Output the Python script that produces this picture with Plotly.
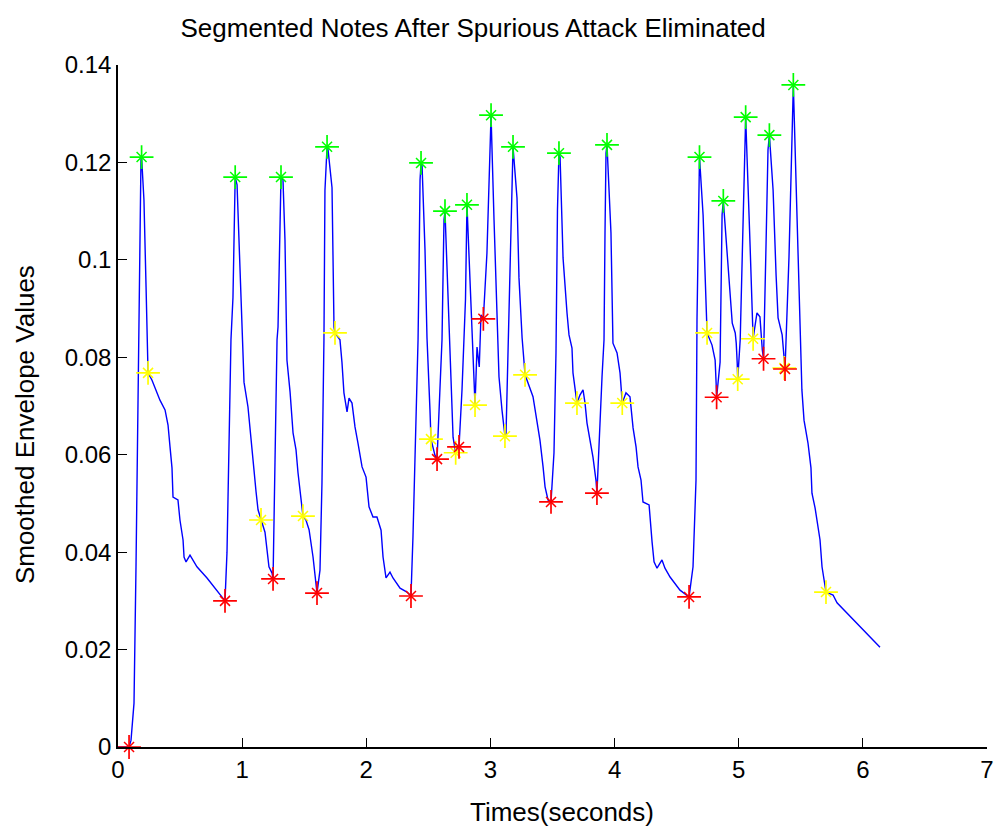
import plotly.graph_objects as go

# Smoothed envelope of the recording (time in seconds, envelope amplitude)
time_s = [
    0.000, 0.089, 0.105, 0.129, 0.145, 0.161, 0.175, 0.185, 0.190, 0.200,
    0.209, 0.226, 0.234, 0.242, 0.274, 0.306, 0.338, 0.379, 0.403, 0.419,
    0.435, 0.443, 0.483, 0.499, 0.524, 0.532, 0.548, 0.580, 0.604, 0.636,
    0.717, 0.862,
    0.878, 0.894, 0.910, 0.926, 0.936, 0.944, 0.959, 0.975, 0.999, 1.015,
    1.047, 1.063, 1.079, 1.088, 1.112, 1.128, 1.152, 1.184, 1.216, 1.241,
    1.249,
    1.265, 1.281, 1.289, 1.305, 1.313, 1.329, 1.345, 1.361, 1.386, 1.410,
    1.434, 1.450, 1.474, 1.490, 1.514, 1.539, 1.571, 1.587, 1.603,
    1.627, 1.643, 1.659, 1.667, 1.684, 1.692, 1.724, 1.732, 1.740, 1.748,
    1.788, 1.804, 1.820, 1.845, 1.861, 1.885, 1.909, 1.933, 1.966, 1.998,
    2.022, 2.054, 2.086, 2.119, 2.135, 2.159, 2.191, 2.215, 2.272, 2.328,
    2.360,
    2.376, 2.400, 2.417, 2.425, 2.433, 2.441, 2.449, 2.473, 2.489, 2.513,
    2.521, 2.553, 2.570,
    2.594, 2.610, 2.618, 2.626, 2.634, 2.658, 2.682, 2.699, 2.720, 2.731,
    2.747,
    2.771, 2.787, 2.799, 2.811, 2.844, 2.860, 2.876, 2.892, 2.910, 2.924,
    2.943,
    2.972, 2.989, 3.005, 3.029, 3.053, 3.069, 3.093, 3.109, 3.117, 3.125,
    3.142, 3.158, 3.174, 3.182, 3.214, 3.230, 3.255, 3.279, 3.343, 3.375,
    3.399, 3.424, 3.440, 3.464, 3.488,
    3.512, 3.528, 3.540, 3.552, 3.561, 3.585, 3.617, 3.633, 3.657, 3.665,
    3.697, 3.722, 3.746, 3.762, 3.778, 3.802, 3.826, 3.850, 3.858,
    3.899, 3.915, 3.923, 3.931, 3.939, 3.971, 3.987, 4.020, 4.044, 4.062,
    4.092, 4.124, 4.149, 4.173, 4.189, 4.213, 4.229, 4.278, 4.302, 4.318,
    4.342, 4.382, 4.406, 4.447, 4.527, 4.600,
    4.632, 4.656, 4.664, 4.676, 4.684, 4.713, 4.729, 4.745, 4.785, 4.810,
    4.818, 4.822,
    4.850, 4.858, 4.866, 4.876, 4.907, 4.931, 4.948, 4.972, 4.980, 4.988,
    4.992,
    5.012, 5.028, 5.044, 5.056, 5.092, 5.116, 5.147, 5.171, 5.190, 5.200,
    5.220, 5.236, 5.247, 5.277, 5.301, 5.317, 5.350, 5.365, 5.373,
    5.405, 5.429, 5.440, 5.470, 5.494, 5.509, 5.526, 5.542, 5.558, 5.582,
    5.590, 5.615, 5.631, 5.655, 5.671, 5.695, 5.703, 5.760, 5.792, 6.138,
]
envelope = [
    0.0000, 0.0000, 0.0014, 0.0090, 0.0370, 0.0743, 0.1070, 0.1205, 0.1211, 0.1160,
    0.1123, 0.0944, 0.0819, 0.0768, 0.0753, 0.0733, 0.0712, 0.0692, 0.0661, 0.0616,
    0.0573, 0.0513, 0.0507, 0.0466, 0.0425, 0.0390, 0.0380, 0.0394, 0.0384, 0.0370,
    0.0347, 0.0300,
    0.0400, 0.0614, 0.0836, 0.0922, 0.1119, 0.1170, 0.1154, 0.1035, 0.0877, 0.0749,
    0.0698, 0.0655, 0.0610, 0.0573, 0.0524, 0.0487, 0.0466, 0.0441, 0.0370, 0.0357,
    0.0345,
    0.0573, 0.0836, 0.0862, 0.1117, 0.1170, 0.1164, 0.1041, 0.0794, 0.0729, 0.0645,
    0.0610, 0.0563, 0.0513, 0.0474, 0.0466, 0.0446, 0.0390, 0.0347, 0.0316,
    0.0363, 0.0542, 0.0836, 0.1143, 0.1232, 0.1226, 0.1148, 0.0965, 0.0862, 0.0850,
    0.0836, 0.0790, 0.0727, 0.0688, 0.0716, 0.0706, 0.0657, 0.0624, 0.0575, 0.0554,
    0.0493, 0.0472, 0.0472, 0.0445, 0.0390, 0.0347, 0.0359, 0.0347, 0.0326, 0.0318,
    0.0310,
    0.0431, 0.0682, 0.0836, 0.0985, 0.1164, 0.1199, 0.1195, 0.1020, 0.0840, 0.0692,
    0.0632, 0.0599, 0.0591,
    0.0739, 0.0836, 0.0963, 0.1082, 0.1100, 0.0907, 0.0758, 0.0636, 0.0604, 0.0616,
    0.0616,
    0.0733, 0.0836, 0.0918, 0.1113, 0.0901, 0.0805, 0.0702, 0.0821, 0.0780, 0.0887,
    0.0879,
    0.1014, 0.1178, 0.1297, 0.1082, 0.0901, 0.0760, 0.0692, 0.0651, 0.0638, 0.0636,
    0.0809, 0.0963, 0.1170, 0.1232, 0.1127, 0.0963, 0.0840, 0.0764, 0.0719, 0.0671,
    0.0630, 0.0575, 0.0534, 0.0507, 0.0503,
    0.0604, 0.0809, 0.1102, 0.1219, 0.1211, 0.1004, 0.0891, 0.0846, 0.0819, 0.0768,
    0.0706, 0.0723, 0.0733, 0.0706, 0.0665, 0.0630, 0.0595, 0.0548, 0.0521,
    0.0760, 0.0836, 0.1057, 0.1219, 0.1236, 0.1055, 0.0829, 0.0809, 0.0768, 0.0706,
    0.0727, 0.0719, 0.0655, 0.0616, 0.0575, 0.0548, 0.0503, 0.0497, 0.0421, 0.0380,
    0.0367, 0.0384, 0.0367, 0.0349, 0.0322, 0.0308,
    0.0370, 0.0548, 0.0877, 0.1139, 0.1211, 0.1092, 0.0948, 0.0850, 0.0825, 0.0794,
    0.0747, 0.0718,
    0.0790, 0.0969, 0.1092, 0.1121, 0.1020, 0.0924, 0.0870, 0.0850, 0.0829, 0.0788,
    0.0755,
    0.0836, 0.0985, 0.1185, 0.1293, 0.1026, 0.0838, 0.0891, 0.0883, 0.0815, 0.0797,
    0.1031, 0.1226, 0.1256, 0.1143, 0.0969, 0.0881, 0.0846, 0.0800, 0.0776,
    0.1006, 0.1226, 0.1359, 0.1086, 0.0866, 0.0733, 0.0671, 0.0651, 0.0624, 0.0573,
    0.0521, 0.0491, 0.0466, 0.0425, 0.0370, 0.0328, 0.0318, 0.0312, 0.0296, 0.0205,
]

# Note onsets (red), envelope peaks (green) and note offsets (yellow)
onset_t = [0.089, 0.862, 1.249, 1.603, 2.360, 2.570, 2.747, 2.943, 3.488, 3.858,
           4.600, 4.822, 5.200, 5.373]
onset_v = [0.0000, 0.0300, 0.0345, 0.0316, 0.0310, 0.0591, 0.0616, 0.0879, 0.0503, 0.0521,
           0.0308, 0.0718, 0.0797, 0.0776]

peak_t = [0.190, 0.944, 1.313, 1.684, 2.441, 2.634, 2.811, 3.005, 3.182, 3.552,
          3.939, 4.684, 4.876, 5.056, 5.247, 5.440]
peak_v = [0.1211, 0.1170, 0.1170, 0.1232, 0.1199, 0.1100, 0.1113, 0.1297, 0.1232, 0.1219,
          0.1236, 0.1211, 0.1121, 0.1293, 0.1256, 0.1359]

offset_t = [0.242, 1.152, 1.490, 1.748, 2.521, 2.720, 2.876, 3.117, 3.279, 3.697,
            4.062, 4.745, 4.992, 5.116, 5.367, 5.703]
offset_v = [0.0768, 0.0466, 0.0474, 0.0850, 0.0632, 0.0604, 0.0702, 0.0638, 0.0764, 0.0706,
            0.0706, 0.0850, 0.0755, 0.0838, 0.0778, 0.0318]

x_ticks = [0, 1, 2, 3, 4, 5, 6, 7]
y_ticks = [0, 0.02, 0.04, 0.06, 0.08, 0.1, 0.12, 0.14]
y_tick_text = ["0", "0.02", "0.04", "0.06", "0.08", "0.1", "0.12", "0.14"]

FONT = "Liberation Sans, Arial, Helvetica, sans-serif"

fig = go.Figure()
fig.add_trace(go.Scatter(x=time_s, y=envelope, mode="lines",
                         line=dict(color="#0000FF", width=1.4), hoverinfo="skip"))


def star_traces(xs, ys, color):
    # MATLAB-style '*' marker: long plus arms with shorter diagonal arms
    plus = go.Scatter(x=xs, y=ys, mode="markers", cliponaxis=False,
                      marker=dict(symbol="cross-thin-open", size=17, color=color,
                                  line=dict(color=color, width=1.7)))
    diag = go.Scatter(x=xs, y=ys, mode="markers", cliponaxis=False,
                      marker=dict(symbol="x-thin-open", size=10, color=color,
                                  line=dict(color=color, width=1.5)))
    return [plus, diag]


for tr in star_traces(offset_t, offset_v, "#FFFF00"):
    fig.add_trace(tr)
for tr in star_traces(onset_t, onset_v, "#FF0000"):
    fig.add_trace(tr)
for tr in star_traces(peak_t, peak_v, "#00FF00"):
    fig.add_trace(tr)

axis_common = dict(showline=True, linecolor="black", linewidth=1.5,
                   ticks="inside", ticklen=9, tickwidth=1.2, tickcolor="black",
                   showgrid=False, zeroline=False, mirror=False, automargin=False,
                   tickfont=dict(family=FONT, size=24, color="black"))

fig.update_xaxes(range=[0, 7], tickvals=x_ticks, ticktext=[str(v) for v in x_ticks],
                 **axis_common)
fig.update_yaxes(range=[0, 0.14], tickvals=y_ticks, ticktext=y_tick_text,
                 **axis_common)

fig.update_layout(
    width=994, height=827,
    margin=dict(l=118, r=7, t=65, b=80, autoexpand=False),
    paper_bgcolor="white", plot_bgcolor="white",
    showlegend=False,
    font=dict(family=FONT, color="black"),
    title=dict(text="Segmented Notes After Spurious Attack Eliminated",
               x=0.476, xref="container", xanchor="center",
               y=0.966, yref="container", yanchor="middle",
               font=dict(family=FONT, size=26, color="black")),
    annotations=[
        dict(text="Times(seconds)", x=0.511, y=-0.095, xref="paper", yref="paper",
             xanchor="center", yanchor="middle", showarrow=False,
             font=dict(family=FONT, size=26, color="black")),
        dict(text="Smoothed Envelope Values", x=-0.107, y=0.472, xref="paper", yref="paper",
             xanchor="center", yanchor="middle", textangle=-90, showarrow=False,
             font=dict(family=FONT, size=26, color="black")),
    ],
)

fig.write_html("out.html")
